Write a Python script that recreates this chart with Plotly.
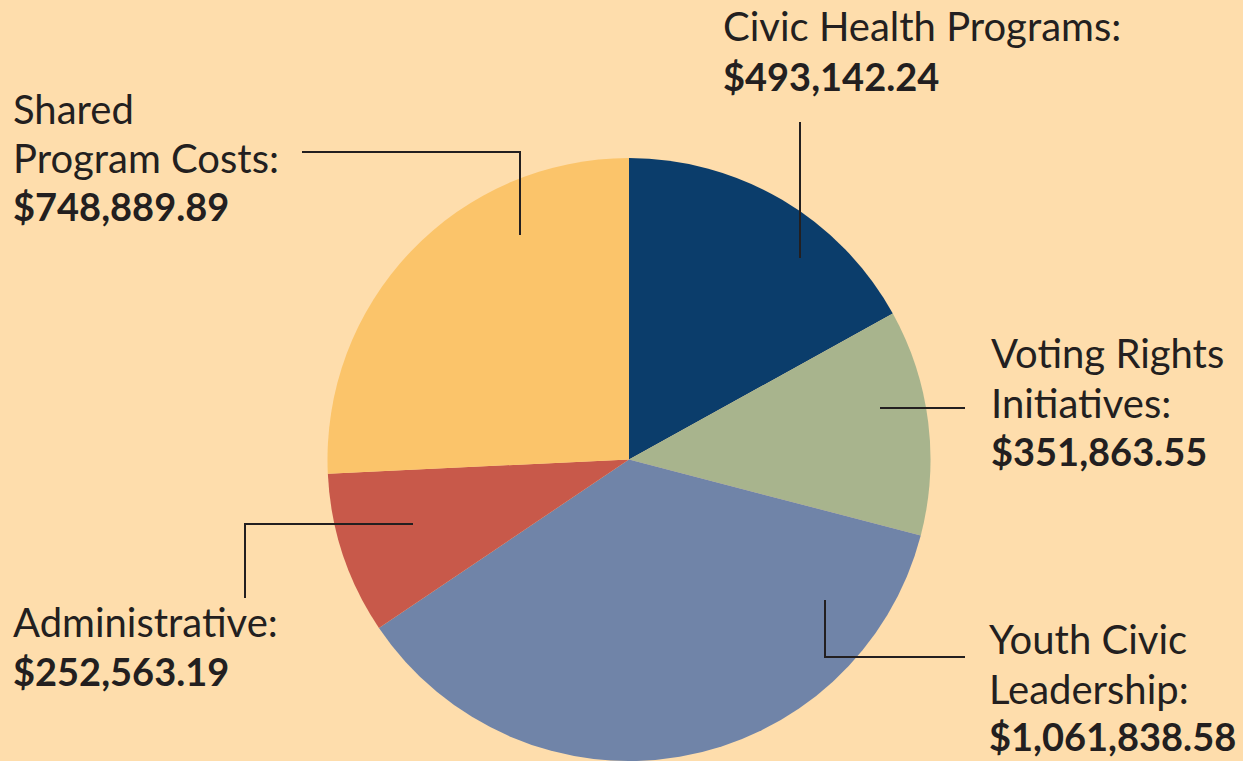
import plotly.graph_objects as go

W, H = 1243, 761

categories = ["Civic Health Programs", "Voting Rights Initiatives", "Youth Civic Leadership",
              "Administrative", "Shared Program Costs"]
label_lines = [["Civic Health Programs:"], ["Voting Rights", "Initiatives:"],
               ["Youth Civic", "Leadership:"], ["Administrative:"], ["Shared", "Program Costs:"]]
values = [493142.24, 351863.55, 1061838.58, 252563.19, 748889.89]
colors = ["#0B3D6B", "#A8B48D", "#7084A8", "#C8594A", "#FBC46A"]

BG = "#FEDDAC"
INK = "#231F20"
FONT = "Lato"
FS_REG = 40
FS_BOLD = 38

# label left x and baseline y of each line (pixels)
label_x = [722, 990, 988, 12, 12]
label_baselines = [[40, 90], [367, 417, 465], [653, 703, 750], [636, 685], [123, 172, 220]]
# leader lines (polyline pixel points)
leaders = [
    [(800, 122), (800, 258)],
    [(880, 408), (965, 408)],
    [(825, 600), (825, 657), (965, 657)],
    [(413, 524), (245, 524), (245, 598)],
    [(302, 152), (520, 152), (520, 235)],
]

def px(x):
    return x / W

def py(y):
    return 1 - y / H

cx, cy, r = 629, 459.5, 301.5

fig = go.Figure(go.Pie(
    labels=categories,
    values=values,
    marker=dict(colors=colors, line=dict(width=0)),
    sort=False,
    direction="clockwise",
    rotation=0,
    textinfo="none",
    hoverinfo="label+value",
    showlegend=False,
    domain=dict(x=[px(cx - r), px(cx + r)], y=[0, py(cy - r)]),
))

for lines, val, lx, bls in zip(label_lines, values, label_x, label_baselines):
    texts = [(t, FS_REG, False) for t in lines] + [("${:,.2f}".format(val), FS_BOLD, True)]
    for (t, fs, bold), bl in zip(texts, bls):
        fig.add_annotation(
            x=px(lx), y=py(bl - 0.36 * fs), xref="paper", yref="paper",
            xanchor="left", yanchor="middle", align="left",
            text=f"<b>{t}</b>" if bold else t, showarrow=False, borderpad=0,
            font=dict(family=FONT, size=fs, color=INK),
        )

for pts in leaders:
    path = "M " + " L ".join(f"{px(x)},{py(y)}" for x, y in pts)
    fig.add_shape(type="path", path=path, xref="paper", yref="paper",
                  line=dict(color=INK, width=2))

fig.update_layout(
    width=W, height=H,
    margin=dict(l=0, r=0, t=0, b=0),
    paper_bgcolor=BG, plot_bgcolor=BG,
    font=dict(family=FONT, color=INK),
)

fig.write_html("out.html", config={"displayModeBar": False},
               post_script="document.body.style.margin='0';")
